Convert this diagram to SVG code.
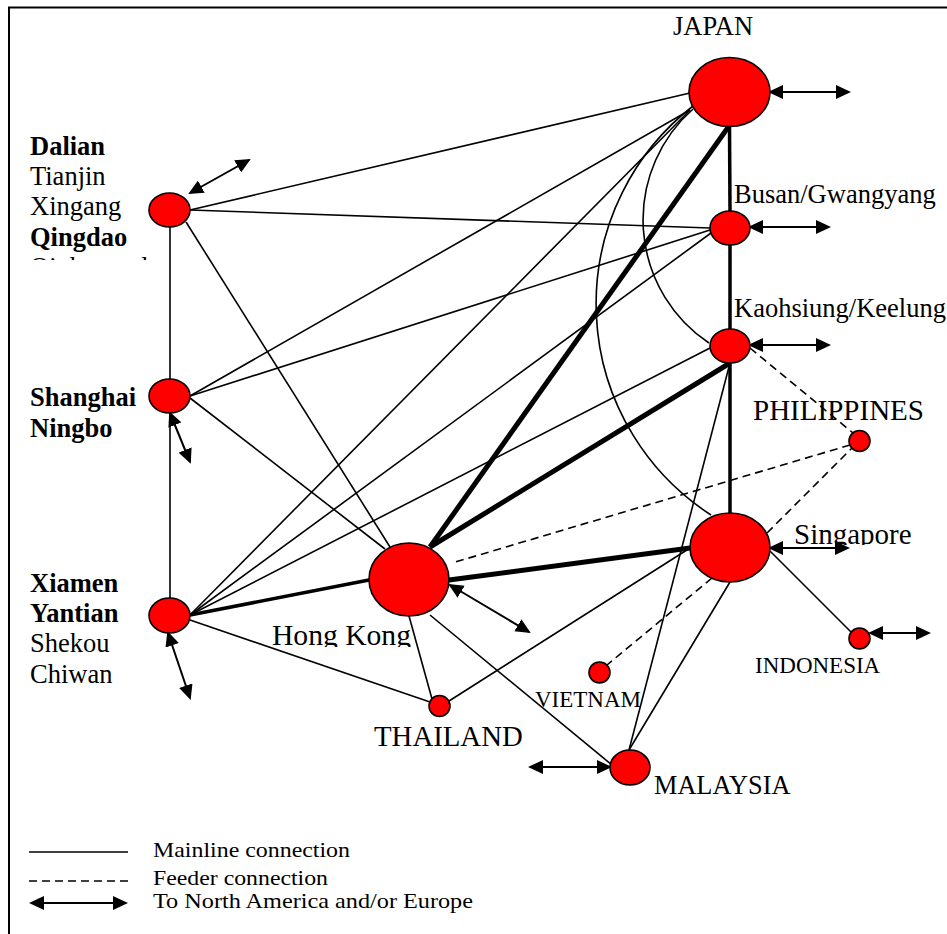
<svg xmlns="http://www.w3.org/2000/svg" width="947" height="934" viewBox="0 0 947 934">
<defs>
<marker id="ah" viewBox="0 0 15 14" refX="13" refY="7" markerWidth="15" markerHeight="14" markerUnits="userSpaceOnUse" orient="auto-start-reverse"><path d="M0,0 L15,7 L0,14 z" fill="#000"/></marker>
<clipPath id="clipL"><rect x="0" y="100" width="160" height="160"/></clipPath>
<clipPath id="clipHK"><rect x="250" y="600" width="200" height="47"/></clipPath>
<clipPath id="clipSG"><rect x="780" y="500" width="160" height="45"/></clipPath>
</defs>
<style>
.t{font-family:"Liberation Serif","Times New Roman",serif;fill:#000}
.b{font-weight:bold}
.n{fill:#ff0000;stroke:#000;stroke-width:1.6}
.c{fill:none;stroke:#000;stroke-width:1.6}
.k{fill:none;stroke:#000;stroke-width:5}
.m{fill:none;stroke:#000;stroke-width:3.5}
.d{fill:none;stroke:#000;stroke-width:1.6;stroke-dasharray:8 5}
.a{fill:none;stroke:#000;stroke-width:2;marker-start:url(#ah);marker-end:url(#ah)}
</style>
<rect x="9" y="7.5" width="960" height="960" fill="none" stroke="#000" stroke-width="2"/>

<g id="connectors">
  <!-- Japan -->
  <line class="c" x1="690" y1="93" x2="190" y2="210"/>
  <line class="c" x1="690" y1="110" x2="190" y2="396"/>
  <line class="c" x1="690" y1="110" x2="190" y2="615"/>
  <line class="k" x1="729" y1="126" x2="430" y2="547"/>
  <line class="m" x1="729.5" y1="126" x2="730" y2="211"/>
  <path class="c" d="M693,106 A251,251 0 0 0 711,515"/>
  <path class="c" d="M693,109 A148,148 0 0 0 709,343"/>
  <!-- Busan -->
  <line class="c" x1="710" y1="228" x2="190" y2="210"/>
  <line class="c" x1="710" y1="230" x2="190" y2="396"/>
  <line class="c" x1="711" y1="233" x2="190" y2="615"/>
  <line class="m" x1="730" y1="245" x2="730" y2="329"/>
  <!-- Kaohsiung -->
  <line class="c" x1="710" y1="348" x2="190" y2="615"/>
  <line class="k" x1="730" y1="363" x2="430" y2="547"/>
  <line class="m" x1="730" y1="363" x2="730" y2="513"/>
  <line class="c" x1="730" y1="363" x2="629" y2="750"/>
  <line class="d" x1="750" y1="348" x2="853" y2="433"/>
  <!-- Singapore -->
  <line class="k" x1="690" y1="548" x2="449" y2="580"/>
  <line class="c" x1="690" y1="548" x2="449" y2="701"/>
  <line class="c" x1="730" y1="582" x2="629" y2="750"/>
  <line class="c" x1="770" y1="551" x2="851" y2="632"/>
  <line class="d" x1="712" y1="578" x2="607" y2="665"/>
  <line class="d" x1="767" y1="533" x2="852" y2="448"/>
  <!-- Hong Kong -->
  <line class="m" x1="369" y1="580" x2="190" y2="615"/>
  <line class="c" x1="390" y1="547" x2="186" y2="222"/>
  <line class="c" x1="385" y1="549" x2="190" y2="398"/>
  <line class="c" x1="430" y1="615" x2="612" y2="765"/>
  <line class="c" x1="409" y1="616" x2="432" y2="699"/>
  <line class="d" x1="850" y1="445" x2="452" y2="563"/>
  <!-- China coast -->
  <line class="c" x1="190" y1="620" x2="430" y2="702"/>
  <line class="c" x1="170" y1="227" x2="170" y2="379"/>
  <line class="c" x1="170" y1="413" x2="170" y2="598"/>
  <!-- external arrows -->
  <line class="a" x1="770" y1="92" x2="849" y2="92"/>
  <line class="a" x1="750" y1="227" x2="829" y2="227"/>
  <line class="a" x1="750" y1="345" x2="829" y2="345"/>
  <line class="a" x1="770" y1="548" x2="848" y2="548"/>
  <line class="a" x1="870" y1="633" x2="929" y2="633"/>
  <line class="a" x1="530" y1="767" x2="610" y2="767"/>
  <line class="a" x1="450" y1="585" x2="529" y2="632"/>
  <line class="a" x1="190" y1="193" x2="249" y2="160"/>
  <line class="a" x1="170" y1="413" x2="190" y2="462"/>
  <line class="a" x1="168" y1="633" x2="190" y2="698"/>
</g>

<g id="japan">
  <ellipse class="n" cx="729.5" cy="92" rx="40.5" ry="34.5"/>
  <text class="t" x="673" y="35" font-size="26.5">JAPAN</text>
</g>
<g id="busan">
  <ellipse class="n" cx="730" cy="228" rx="20" ry="17"/>
  <text class="t" x="734" y="203" font-size="26.5">Busan/Gwangyang</text>
</g>
<g id="kaohsiung">
  <ellipse class="n" cx="730" cy="346" rx="20" ry="17"/>
  <text class="t" x="734" y="317" font-size="26.5">Kaohsiung/Keelung</text>
</g>
<g id="philippines">
  <circle class="n" cx="859.5" cy="441" r="10.5"/>
  <text class="t" x="753" y="420" font-size="29" textLength="171" lengthAdjust="spacingAndGlyphs">PHILIPPINES</text>
</g>
<g id="singapore">
  <ellipse class="n" cx="730" cy="547.5" rx="40" ry="34.5"/>
  <text class="t" x="794" y="544" font-size="29" clip-path="url(#clipSG)">Singapore</text>
</g>
<g id="indonesia">
  <circle class="n" cx="859.5" cy="638.5" r="10.5"/>
  <text class="t" x="755" y="673" font-size="23">INDONESIA</text>
</g>
<g id="vietnam">
  <circle class="n" cx="599.5" cy="672.5" r="10.5"/>
  <text class="t" x="535" y="707" font-size="23">VIETNAM</text>
</g>
<g id="malaysia">
  <ellipse class="n" cx="630" cy="767.5" rx="20" ry="17.5"/>
  <text class="t" x="654" y="794" font-size="26.3">MALAYSIA</text>
</g>
<g id="thailand">
  <circle class="n" cx="439.5" cy="706" r="10.5"/>
  <text class="t" x="374" y="746" font-size="28.8">THAILAND</text>
</g>
<g id="hongkong">
  <ellipse class="n" cx="409" cy="579.5" rx="40" ry="36.5"/>
  <text class="t" x="272" y="645" font-size="29.6" clip-path="url(#clipHK)">Hong Kong</text>
</g>
<g id="dalian">
  <ellipse class="n" cx="169.5" cy="210" rx="20.5" ry="17"/>
  <g clip-path="url(#clipL)">
    <text class="t b" x="30" y="155" font-size="26.5">Dalian</text>
    <text class="t" x="30" y="185" font-size="26.5">Tianjin</text>
    <text class="t" x="30" y="215" font-size="26.5">Xingang</text>
    <text class="t b" x="30" y="246" font-size="26.5">Qingdao</text>
    <text class="t" x="30" y="276" font-size="26.5">Qinhuangdao</text>
  </g>
</g>
<g id="shanghai">
  <ellipse class="n" cx="169.5" cy="396" rx="20.5" ry="17"/>
  <text class="t b" x="30" y="406" font-size="26.5">Shanghai</text>
  <text class="t b" x="30" y="437" font-size="26.5">Ningbo</text>
</g>
<g id="xiamen">
  <ellipse class="n" cx="169.5" cy="615.5" rx="20.5" ry="17.5"/>
  <text class="t b" x="30" y="592" font-size="26.5">Xiamen</text>
  <text class="t b" x="30" y="622" font-size="26.5">Yantian</text>
  <text class="t" x="30" y="652" font-size="26.5">Shekou</text>
  <text class="t" x="30" y="683" font-size="26.5">Chiwan</text>
</g>

<g id="legend">
  <line class="c" x1="29" y1="852" x2="128" y2="852"/>
  <line class="d" x1="29" y1="881" x2="128" y2="881"/>
  <line class="a" x1="31" y1="903" x2="126" y2="903"/>
  <text class="t" x="153" y="857" font-size="21" textLength="197" lengthAdjust="spacingAndGlyphs">Mainline connection</text>
  <text class="t" x="153" y="885" font-size="21" textLength="175" lengthAdjust="spacingAndGlyphs">Feeder connection</text>
  <text class="t" x="153" y="908" font-size="21" textLength="320" lengthAdjust="spacingAndGlyphs">To North America and/or Europe</text>
</g>
</svg>
